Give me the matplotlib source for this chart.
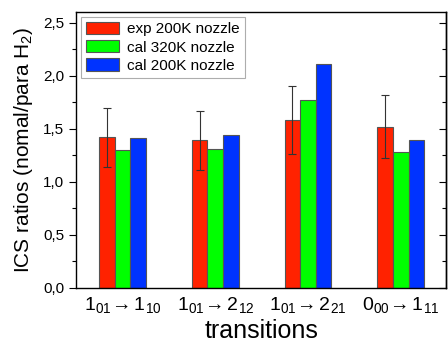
import numpy as np
import matplotlib.pyplot as plt
from matplotlib.ticker import MultipleLocator, FuncFormatter

plt.rcParams['font.family'] = ['Liberation Sans', 'DejaVu Sans']
plt.rcParams['mathtext.fontset'] = 'custom'
plt.rcParams['mathtext.rm'] = 'Liberation Sans'
plt.rcParams['mathtext.it'] = 'Liberation Sans'

# data
transitions = [r'$1_{01}\!\rightarrow 1_{10}$', r'$1_{01}\!\rightarrow 2_{12}$',
               r'$1_{01}\!\rightarrow 2_{21}$', r'$0_{00}\!\rightarrow 1_{11}$']
exp_200k = [1.42, 1.39, 1.58, 1.52]
exp_err_lo = [0.28, 0.28, 0.32, 0.30]
exp_err_hi = [0.28, 0.28, 0.32, 0.30]
cal_320k = [1.30, 1.31, 1.77, 1.28]
cal_200k = [1.41, 1.44, 2.11, 1.39]

x = np.arange(1, len(transitions) + 1)
w = 0.168

fig = plt.figure(figsize=(4.48, 3.47), dpi=100)
ax = fig.add_axes([0.17, 0.171, 0.826, 0.794])

ax.bar(x - w, exp_200k, w, color='#ff2200', edgecolor='#555555', linewidth=0.8,
       label='exp 200K nozzle', zorder=2)
ax.errorbar(x - w, exp_200k, yerr=[exp_err_lo, exp_err_hi], fmt='none',
            ecolor='#333333', elinewidth=0.8, capsize=3, capthick=0.8, zorder=3)
ax.bar(x, cal_320k, w, color='#00ff00', edgecolor='#555555', linewidth=0.8,
       label='cal 320K nozzle', zorder=2)
ax.bar(x + w, cal_200k, w, color='#0033ff', edgecolor='#555555', linewidth=0.8,
       label='cal 200K nozzle', zorder=2)

ax.set_xlim(0.5, 4.49)
ax.set_ylim(0, 2.6)
ax.set_xticks(x)
ax.set_xticklabels(transitions, fontsize=14)
ax.tick_params(axis='x', length=0, pad=5)

ax.yaxis.set_major_locator(MultipleLocator(0.5))
ax.yaxis.set_minor_locator(MultipleLocator(0.25))
ax.yaxis.set_major_formatter(FuncFormatter(lambda v, p: f'{v:.1f}'.replace('.', ',')))
ax.tick_params(axis='y', which='major', direction='out', length=5, labelsize=11, width=0.8)
ax.tick_params(axis='y', which='minor', direction='out', length=3, width=0.8)

# right side: inward ticks, no labels
rax = ax.secondary_yaxis('right')
rax.yaxis.set_major_locator(MultipleLocator(0.5))
rax.yaxis.set_minor_locator(MultipleLocator(0.25))
rax.tick_params(which='major', direction='in', length=5, width=0.8, labelright=False)
rax.tick_params(which='minor', direction='in', length=3, width=0.8)
rax.spines['right'].set_linewidth(1.0)

ax.set_ylabel(r'ICS ratios (nomal/para H$_2$)', fontsize=15, labelpad=6)
ax.set_xlabel('transitions', fontsize=18, labelpad=3)

leg = ax.legend(loc='upper left', fontsize=11, frameon=True, fancybox=False,
                edgecolor='#999999', handlelength=2.15, handleheight=0.85,
                borderaxespad=0.3, labelspacing=0.25, handletextpad=0.5,
                borderpad=0.35)
leg.get_frame().set_linewidth(0.8)

for s in ax.spines.values():
    s.set_linewidth(1.0)

fig.savefig('out.png', dpi=100)
